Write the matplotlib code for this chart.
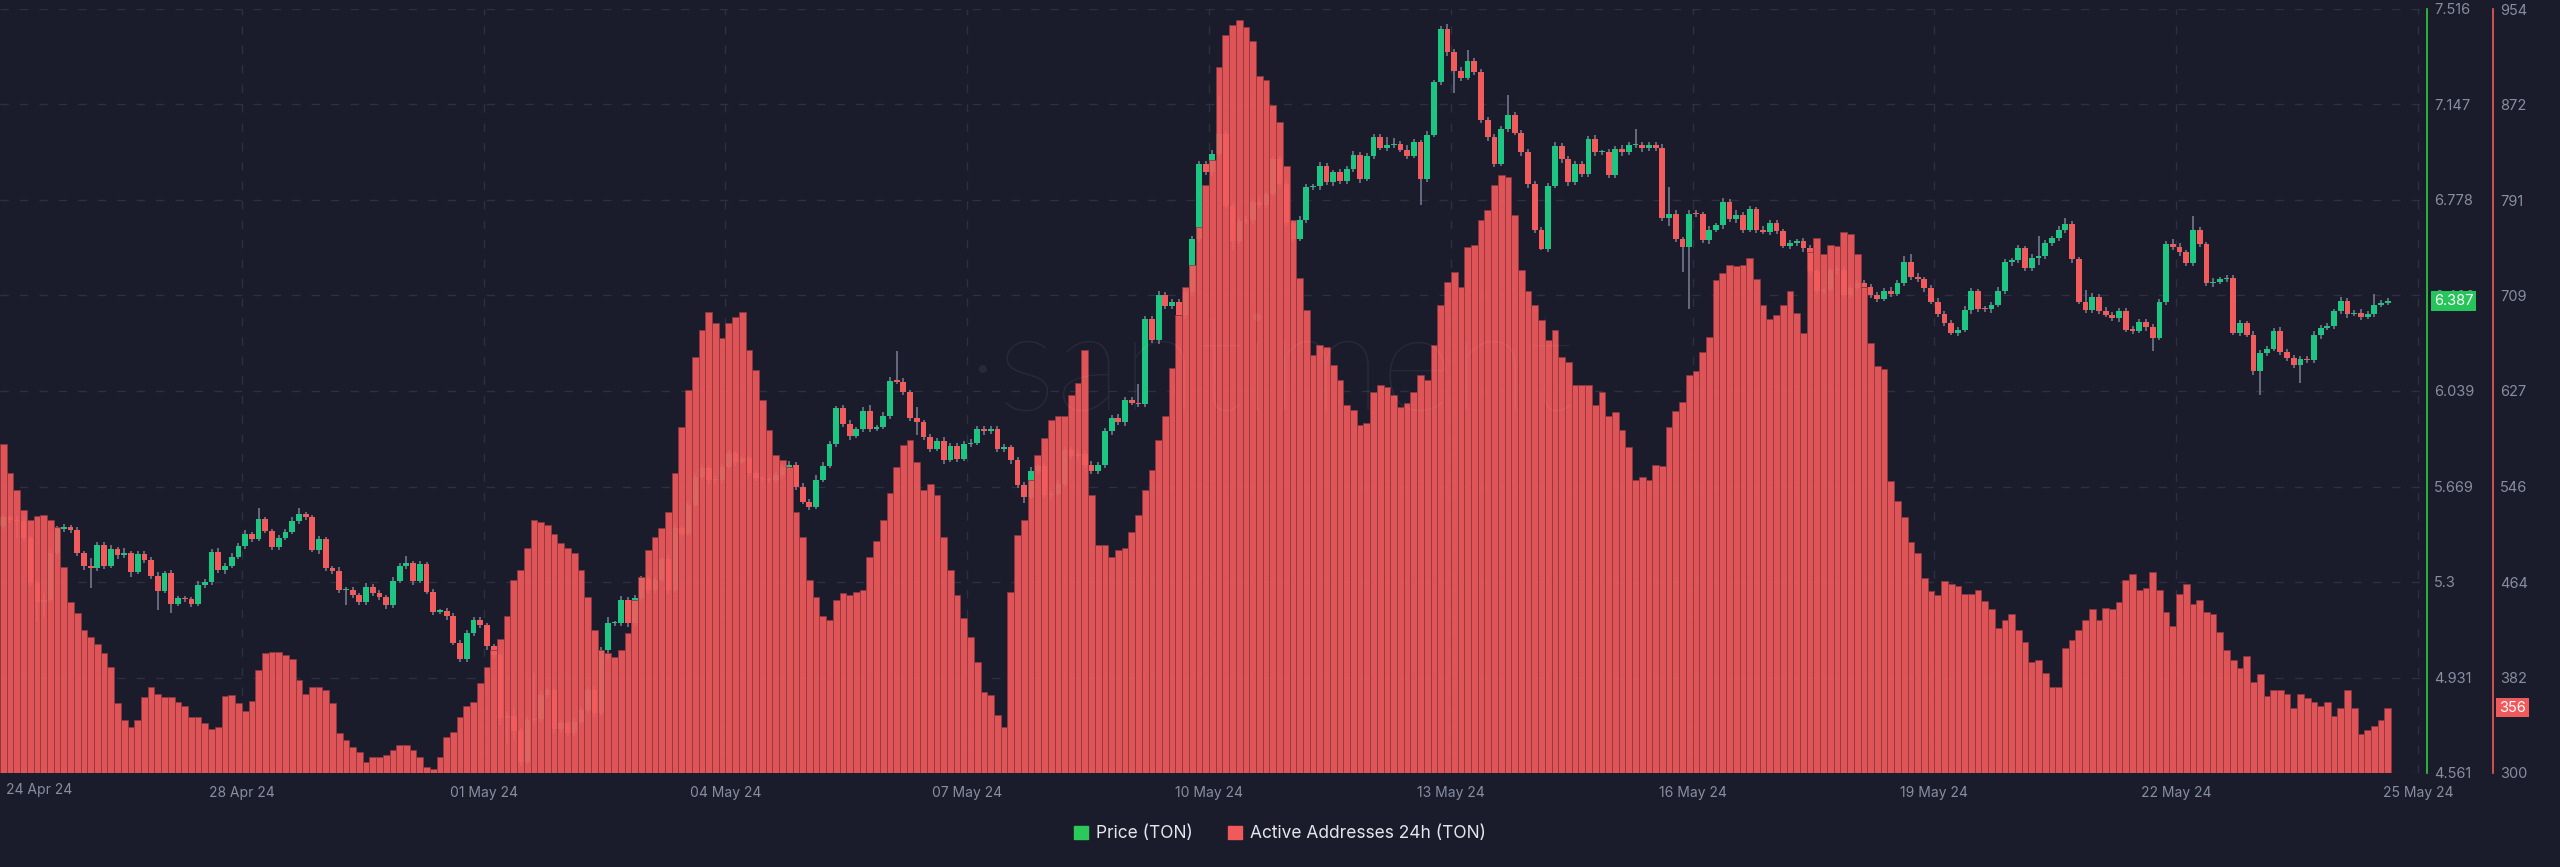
import matplotlib
matplotlib.use("Agg")
import matplotlib.pyplot as plt
from matplotlib.patches import Patch
import numpy as np

plt.rcParams['font.family'] = ['Inter', 'DejaVu Sans']

# TON price, 2-hour candles starting 25 Apr 2024 00:00 (open of first candle + closes)
first_open = 5.516
price_close = [
    # 25 Apr - 01 May
    5.550, 5.540, 5.535, 5.469, 5.295, 5.224, 5.232, 5.411, 5.503, 5.514,
    5.501, 5.411, 5.363, 5.354, 5.443, 5.362, 5.426, 5.404, 5.410, 5.340,
    5.408, 5.385, 5.323, 5.266, 5.333, 5.215, 5.237, 5.233, 5.215, 5.288,
    5.300, 5.415, 5.346, 5.363, 5.398, 5.440, 5.484, 5.465, 5.542, 5.498,
    5.434, 5.469, 5.494, 5.536, 5.561, 5.552, 5.424, 5.465, 5.352, 5.344,
    5.269, 5.269, 5.250, 5.221, 5.282, 5.259, 5.241, 5.211, 5.305, 5.362,
    5.372, 5.305, 5.369, 5.262, 5.185, 5.188, 5.168, 5.065, 5.002, 5.101,
    5.153, 5.133, 5.053, 5.017, 4.772, 4.780,
    # 01 May - 06 May
    4.725, 4.605, 4.766, 4.769, 4.863, 4.882, 4.730, 4.753, 4.715, 4.760,
    4.805, 4.882, 4.792, 5.037, 5.140, 5.140, 5.230, 5.140, 5.237, 5.314,
    5.269, 5.308, 5.388, 5.269, 5.508, 5.486, 5.598, 5.707, 5.740, 5.694,
    5.694, 5.746, 5.798, 5.765, 5.778, 5.720, 5.701, 5.697, 5.694, 5.714,
    5.746, 5.752, 5.669, 5.611, 5.591, 5.694, 5.749, 5.834, 5.972, 5.911,
    5.865, 5.890, 5.963, 5.892, 5.898, 5.942, 6.079, 6.075,
    # 06 May - 10 May
    6.033, 5.936, 5.917, 5.859, 5.816, 5.845, 5.772, 5.826, 5.776, 5.834,
    5.839, 5.892, 5.884, 5.892, 5.814, 5.820, 5.772, 5.675, 5.630, 5.729,
    5.748, 5.636, 5.640, 5.679, 5.810, 5.787, 5.795, 5.752, 5.729, 5.752,
    5.884, 5.936, 5.917, 6.004, 5.994, 5.988, 6.317, 6.236, 6.410, 6.367,
    6.383, 6.333, 6.420, 6.627, 6.917, 6.884, 6.955, 7.033, 6.754, 6.619,
    6.696, 6.700, 6.768, 6.758, 6.801, 6.936,
    # 10 May - 15 May
    6.839, 6.690, 6.627, 6.700, 6.826, 6.830, 6.909, 6.845, 6.884, 6.851,
    6.897, 6.951, 6.859, 6.948, 7.019, 6.980, 6.990, 6.993, 6.971, 6.948,
    7.000, 6.859, 7.029, 7.232, 7.439, 7.348, 7.276, 7.251, 7.315, 7.271,
    7.087, 7.019, 6.917, 7.052, 7.106, 7.038, 6.961, 6.839, 6.661, 6.588,
    6.832, 6.986, 6.936, 6.845, 6.917, 6.878, 7.013, 6.961, 6.961, 6.874,
    6.975, 6.961, 6.990, 6.990, 6.978, 6.990, 6.978,
    # 15 May - 20 May
    6.707, 6.725, 6.626, 6.595, 6.725, 6.722, 6.621, 6.663, 6.679, 6.769,
    6.704, 6.719, 6.663, 6.741, 6.663, 6.655, 6.688, 6.657, 6.601, 6.610,
    6.617, 6.590, 6.502, 6.424, 6.430, 6.505, 6.508, 6.411, 6.438, 6.458,
    6.440, 6.408, 6.396, 6.427, 6.415, 6.458, 6.539, 6.481, 6.471, 6.435,
    6.384, 6.337, 6.303, 6.264, 6.275, 6.353, 6.424, 6.357, 6.354, 6.373,
    6.427, 6.536, 6.544, 6.590, 6.513, 6.554,
    # 20 May - 24 May
    6.559, 6.610, 6.629, 6.663, 6.683, 6.548, 6.384, 6.352, 6.404, 6.349,
    6.334, 6.321, 6.349, 6.275, 6.272, 6.306, 6.287, 6.244, 6.384, 6.606,
    6.595, 6.575, 6.533, 6.660, 6.606, 6.455, 6.461, 6.471, 6.477, 6.264,
    6.300, 6.256, 6.116, 6.186, 6.202, 6.272, 6.191, 6.166, 6.140, 6.163,
    6.158, 6.256, 6.284, 6.290, 6.346, 6.388, 6.337, 6.342, 6.326, 6.337,
    6.373, 6.380, 6.387,
]

# wick length above / below the body, in thousandths of a dollar
wick_up = [
    10, 8, 15, 20, 10, 12, 24, 15, 12, 10, 8, 12, 10, 30, 10, 12, 15, 10, 20, 10,
    12, 10, 10, 15, 10, 12, 10, 10, 8, 15, 10, 12, 15, 10, 12, 10, 15, 10, 43, 10,
    8, 12, 10, 15, 24, 10, 8, 12, 10, 10, 15, 10, 10, 8, 12, 10, 10, 8, 15, 12,
    30, 10, 12, 10, 10, 8, 10, 10, 12, 15, 10, 12, 10, 8, 10, 20,
    35, 10, 12, 178, 15, 12, 10, 12, 10, 15, 12, 10, 15, 10, 26, 10, 15, 10, 12, 10,
    12, 10, 10, 15, 12, 10, 15, 10, 12, 10, 15, 10, 12, 10, 10, 12, 10, 8, 10, 12,
    10, 15, 10, 12, 10, 20, 15, 12, 10, 12, 15, 10, 12, 20, 10, 15, 12, 115,
    12, 10, 40, 10, 12, 10, 15, 10, 12, 10, 15, 12, 10, 12, 10, 15, 10, 12, 10, 15,
    10, 12, 10, 15, 12, 10, 12, 10, 15, 10, 12, 10, 15, 10, 12, 72, 10, 12, 15, 10,
    12, 10, 15, 12, 10, 12, 15, 147, 10, 12, 10, 15, 12, 20, 10, 12,
    10, 12, 10, 15, 12, 10, 15, 12, 10, 12, 10, 15, 12, 10, 15, 12, 30, 25, 12, 20,
    12, 10, 15, 10, 10, 20, 12, 15, 43, 10, 12, 10, 15, 10, 78, 12, 10, 15, 12, 10,
    12, 15, 10, 12, 10, 12, 10, 15, 10, 12, 10, 15, 10, 63, 12, 10, 12,
    15, 103, 12, 10, 12, 15, 10, 12, 10, 15, 12, 20, 10, 12, 10, 15, 10, 12, 10, 12,
    10, 15, 12, 10, 12, 10, 15, 10, 12, 10, 10, 12, 15, 10, 12, 10, 20, 30, 12, 10,
    12, 15, 10, 12, 10, 15, 12, 10, 12, 10, 15, 12, 10, 12, 10, 15,
    78, 12, 10, 15, 25, 12, 10, 46, 12, 10, 15, 10, 12, 10, 15, 12, 10, 12, 10, 12,
    20, 15, 10, 54, 12, 10, 15, 10, 12, 10, 12, 10, 15, 10, 12, 10, 15, 10, 12, 10,
    12, 15, 10, 12, 10, 15, 12, 10, 12, 10, 40, 12, 10,
]
wick_dn = [
    10, 12, 65, 12, 10, 78, 60, 10, 8, 10, 12, 10, 15, 79, 10, 12, 10, 15, 10, 20,
    10, 12, 10, 76, 10, 37, 10, 10, 12, 10, 10, 12, 10, 15, 10, 10, 12, 10, 8, 10,
    12, 10, 8, 10, 10, 12, 10, 15, 10, 12, 10, 59, 12, 10, 10, 12, 10, 15, 10, 10,
    12, 15, 10, 10, 12, 10, 15, 10, 12, 10, 10, 12, 15, 10, 25, 100,
    35, 15, 10, 10, 12, 10, 15, 10, 12, 10, 10, 12, 15, 10, 33, 10, 12, 15, 10, 12,
    10, 12, 10, 15, 10, 12, 10, 10, 12, 15, 10, 12, 10, 15, 10, 12, 10, 15, 12, 10,
    12, 10, 15, 10, 12, 10, 8, 10, 12, 10, 15, 10, 10, 12, 10, 8, 10, 10,
    10, 12, 47, 10, 12, 10, 15, 10, 12, 10, 12, 10, 15, 10, 12, 10, 15, 10, 23, 10,
    12, 10, 15, 10, 12, 10, 15, 10, 12, 10, 12, 15, 10, 12, 10, 10, 12, 10, 15, 10,
    12, 10, 15, 10, 12, 10, 15, 10, 12, 35, 12, 10, 15, 10, 12, 10,
    10, 15, 12, 10, 12, 10, 15, 10, 12, 10, 12, 10, 15, 10, 12, 10, 15, 12, 10, 12,
    10, 101, 12, 10, 10, 12, 83, 15, 10, 12, 10, 15, 12, 10, 12, 10, 12, 15, 10, 4,
    12, 10, 15, 12, 10, 12, 10, 15, 10, 12, 10, 12, 10, 12, 15, 10, 12,
    12, 31, 10, 98, 238, 12, 10, 15, 10, 12, 10, 15, 12, 10, 12, 10, 15, 12, 10, 12,
    10, 12, 15, 10, 12, 10, 15, 10, 12, 10, 12, 10, 15, 10, 12, 10, 12, 15, 10, 12,
    10, 12, 15, 10, 12, 10, 15, 12, 10, 12, 10, 12, 15, 10, 12, 10,
    30, 10, 12, 10, 12, 15, 10, 12, 10, 12, 10, 12, 15, 10, 12, 10, 15, 50, 10, 12,
    10, 15, 12, 10, 12, 10, 15, 10, 12, 10, 12, 10, 15, 93, 12, 10, 15, 10, 12, 70,
    10, 12, 15, 10, 12, 10, 15, 10, 12, 10, 12, 10, 10,
]

# active addresses 24h, 2-hour steps from 25 Apr 2024
active_addresses = [
    582, 557, 542, 525, 517, 520, 521, 517, 511, 476, 446, 437,
    422, 416, 410, 403, 391, 360, 345, 339, 345, 365, 374, 368,
    365, 365, 361, 357, 348, 348, 343, 338, 339, 366, 367,
    360, 353, 362, 388, 403, 404, 404, 401, 398, 380, 368, 374,
    374, 371, 360, 334, 328, 322, 318, 309, 314, 314, 315, 320,
    324, 324, 320, 314, 305, 303, 314, 331, 335, 348, 357, 361,
    377, 391, 405, 415, 434, 465, 474, 493, 517, 515, 512, 505,
    497, 493, 488, 474, 451, 422, 405, 403, 399, 405, 420, 448,
    468, 491, 502, 510, 523, 557, 596, 628, 656, 679, 695, 685,
    672, 685, 690, 695, 662, 645, 619, 594, 572, 568, 562, 523,
    502, 465, 451, 434, 431, 448, 454, 452, 455, 457, 485, 499,
    517, 540, 562, 581, 585, 566, 542, 547, 538, 502, 474, 452,
    433, 416, 395, 369, 367, 350, 339, 455, 504, 517, 551, 572,
    587, 602, 606, 606, 624, 634, 662, 538, 495, 495, 485, 491,
    493, 506, 521, 542, 559, 585, 606, 647, 692, 716, 735, 767,
    803, 825, 904, 932, 940, 945, 939, 927, 897, 893, 872, 857,
    820, 773, 724, 696, 658, 666, 665, 649, 636, 615, 611, 598,
    600, 626, 632, 630, 624, 613, 617, 626, 641, 636, 666,
    701, 720, 729, 716, 750, 752, 773, 782, 803, 812, 810, 778,
    731, 713, 701, 688, 671, 679, 656, 652, 632, 632, 632, 615,
    626, 606, 609, 594, 579, 551, 553, 551, 564, 563, 596, 610,
    618, 641, 644, 660, 673, 722, 728, 735, 734, 735, 741, 723,
    701, 689, 692, 701, 713, 694, 677, 746, 758, 744, 752, 751,
    763, 761, 744, 716, 668, 648, 646, 550, 533, 519, 498, 488,
    467, 456, 452, 464, 462, 460, 453, 453, 457, 447, 440, 424,
    431, 436, 422, 412, 395, 397, 386, 374, 374, 407, 414, 422,
    431, 440, 431, 441, 440, 446, 465, 470, 457, 458, 472,
    457, 438, 426, 453, 462, 445, 448, 438, 436, 421, 405, 397,
    390, 400, 378, 385, 366, 371, 371, 368, 356, 368, 364, 361,
    357, 361, 349, 356, 371, 356, 333, 337, 340, 345, 356,
]

price_ticks = [4.561, 4.930, 5.300, 5.669, 6.039, 6.408, 6.778, 7.147, 7.516]
price_tick_labels = ['4.561', '4.931', '5.3', '5.669', '6.039', '6.408', '6.778', '7.147', '7.516']
addr_ticks = [300, 381.75, 463.5, 545.25, 627, 708.75, 790.5, 872.25, 954]
addr_tick_labels = ['300', '382', '464', '546', '627', '709', '791', '872', '954']
date_days = [3, 6, 9, 12, 15, 18, 21, 24, 27, 30]   # days after 25 Apr 00:00
date_labels = ['28 Apr 24', '01 May 24', '04 May 24', '07 May 24', '10 May 24',
               '13 May 24', '16 May 24', '19 May 24', '22 May 24', '25 May 24']

bg = '#1a1c2b'
green = '#1cc682'
red = '#f15b5c'
grid_c = '#2c3043'
label_c = '#878ea2'

fig = plt.figure(figsize=(25.6, 8.67), dpi=100, facecolor=bg)
ax = fig.add_axes([0, 94/867, 2427/2560, 764/867])
ax.set_facecolor(bg)
ax2 = ax.twinx()

# candles
close = np.array(price_close)
opn = np.r_[first_open, close[:-1]]
hi = np.maximum(opn, close) + np.array(wick_up) / 1000
lo = np.minimum(opn, close) - np.array(wick_dn) / 1000
t_c = (2 * np.arange(len(close)) + 1) / 24
up = close >= opn
body_h = np.maximum(np.abs(close - opn), 0.005)
ax.vlines(t_c, lo, hi, color='#7a8095', lw=1.1, zorder=2)
ax.bar(t_c, body_h, bottom=np.minimum(opn, close), width=0.072,
       color=np.where(up, green, red), linewidth=0, zorder=3)

# active addresses bars (drawn on top, like the reference)
t_a = (2 * np.arange(len(active_addresses)) + 1) / 24
ax2.bar(t_a, active_addresses, width=2/24, color=red, edgecolor='#8e3640',
        linewidth=0.6, alpha=0.92, zorder=2)

ax.set_xlim(0, 2427/80.6)
ax.set_ylim(4.561, 7.516)
ax2.set_ylim(300, 954)

ax.set_xticks(date_days)
ax.set_xticklabels(date_labels)
ax.text(0.0025, -0.022, '24 Apr 24', transform=ax.transAxes, ha='left', va='center',
        color=label_c, fontsize=10)

ax.set_yticks(price_ticks)
ax.set_yticklabels(price_tick_labels)
ax.yaxis.tick_right()
ax2.set_yticks(addr_ticks)
ax2.set_yticklabels(addr_tick_labels)

ax.tick_params(axis='x', length=0, pad=9, labelcolor=label_c, labelsize=10)
ax.tick_params(axis='y', length=0, pad=5, labelcolor=label_c, labelsize=10.5)
ax2.tick_params(axis='y', length=0, pad=5, labelcolor=label_c, labelsize=10.5)

ax.grid(True, color=grid_c, lw=1, dashes=(6, 8), zorder=0)
ax.set_axisbelow(True)

for s in ['top', 'left', 'bottom']:
    ax.spines[s].set_visible(False)
    ax2.spines[s].set_visible(False)
ax.spines['right'].set_color('#2ecc40')
ax.spines['right'].set_linewidth(1.2)
ax2.spines['right'].set_position(('outward', 66 * 0.72))
ax2.spines['right'].set_color('#f05a5b')
ax2.spines['right'].set_linewidth(1.2)

# last value markers on the axes
ax2.annotate('6.387', xy=(1, 6.387), xycoords=ax.get_yaxis_transform(),
             xytext=(5, 0), textcoords='offset points', ha='left', va='center',
             color='white', fontsize=10.5, zorder=10,
             bbox=dict(boxstyle='square,pad=0.2', fc='#25c55a', ec='none'))
ax2.annotate('356', xy=(1, 356), xycoords=ax2.get_yaxis_transform(),
             xytext=(52, 0), textcoords='offset points', ha='left', va='center',
             color='white', fontsize=10.5, zorder=10, annotation_clip=False,
             bbox=dict(boxstyle='square,pad=0.2', fc='#f05a5b', ec='none'))

# watermark
fig.text(1270/2560, 1 - 372/867, '·santiment', ha='center', va='center',
         fontsize=100, color='#ffffff', alpha=0.06, family=['Lato', 'DejaVu Sans'],
         fontweight='light')

fig.legend(handles=[Patch(color='#2bc95a', label='Price (TON)'),
                    Patch(color='#f05a5b', label='Active Addresses 24h (TON)')],
           loc='center', bbox_to_anchor=(0.5, 1 - 834/867), ncol=2, frameon=False,
           fontsize=12.5, labelcolor='#e4e6ec', handlelength=0.8, handleheight=0.8,
           handletextpad=0.5, columnspacing=2.0)

fig.savefig('out.png', dpi=100, facecolor=bg)
